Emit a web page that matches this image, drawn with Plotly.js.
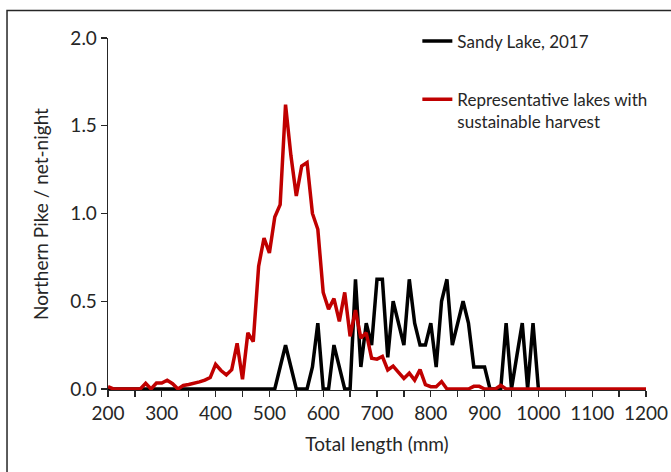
<!DOCTYPE html>
<html>
<head>
<meta charset="utf-8">
<script src="https://cdn.plot.ly/plotly-3.0.1.min.js"></script>
<style>html,body{margin:0;padding:0;background:#fff;}#chart{width:671px;height:472px;}</style>
</head>
<body>
<div id="chart"></div>
<script>
// Total length (mm) bins
const lengthsRep = [200,210,220,230,240,250,260,270,280,290,300,310,320,330,340,350,360,370,380,390,
  400,410,420,430,440,450,460,470,480,490,500,510,520,530,540,550,560,570,580,590,
  600,610,620,630,640,650,660,670,680,690,700,710,720,730,740,750,760,770,780,790,
  800,810,820,830,840,850,860,870,880,890,900,910,920,930,940,950,960,970,980,990,
  1000,1010,1020,1030,1040,1050,1060,1070,1080,1090,1100,1110,1120,1130,1140,1150,1160,1170,1180,1190,1200];
// Representative lakes with sustainable harvest (fish / net-night)
const repValues = [0.013,0,0,0,0,0,0,0.032,0,0.034,0.034,0.05,0.03,0,0.02,0.025,0.03,0.04,0.05,0.065,
  0.14,0.105,0.08,0.11,0.26,0.055,0.32,0.27,0.70,0.86,0.775,0.98,1.05,1.62,1.33,1.10,1.27,1.29,1.00,0.91,
  0.55,0.455,0.515,0.385,0.55,0.30,0.45,0.29,0.32,0.175,0.17,0.185,0.108,0.13,0.095,0.06,0.09,0.05,0.11,0.025,
  0.013,0.013,0.042,0,0,0,0,0,0.015,0.015,0,0,0,0.02,0,0,0,0,0,0,
  0,0,0,0,0,0,0,0,0,0,0,0,0,0,0,0,0,0,0,0,0];
const lengthsSandy = [200,210,220,230,240,250,260,270,280,290,300,310,320,330,340,350,360,370,380,390,
  400,410,420,430,440,450,460,470,480,490,500,510,520,530,540,550,560,570,580,590,
  600,610,620,630,640,650,660,670,680,690,700,710,720,730,740,750,760,770,780,790,
  800,810,820,830,840,850,860,870,880,890,900,910,920,930,940,950,960,970,980,990,1000];
// Sandy Lake, 2017 (fish / net-night)
const sandyValues = [0,0,0,0,0,0,0,0,0,0,0,0,0,0,0,0,0,0,0,0,
  0,0,0,0,0,0,0,0,0,0,0,0,0.125,0.25,0.125,0,0,0,0.125,0.375,
  0,0,0.25,0.125,0,0,0.625,0.125,0.375,0.25,0.625,0.625,0.18,0.5,0.375,0.25,0.625,0.375,0.25,0.25,
  0.375,0.125,0.5,0.625,0.25,0.375,0.5,0.375,0.125,0.125,0.125,0,0,0,0.375,0,0.19,0.375,0,0.375,0];

const seriesNames = ['Sandy Lake, 2017', 'Representative lakes with<br>sustainable harvest'];
const xTitle = 'Total length (mm)';
const yTitle = 'Northern Pike / net-night';

const FONT = 'Lato, "Open Sans", sans-serif';

const traces = [
  {x: lengthsSandy, y: sandyValues, type: 'scatter', mode: 'lines', name: seriesNames[0],
   line: {color: '#000000', width: 3.5}, legendgroup: 'a'},
  {x: lengthsRep, y: repValues, type: 'scatter', mode: 'lines', name: seriesNames[1],
   line: {color: '#C00000', width: 3.5}, legendgroup: 'b'}
];

const layout = {
  width: 671, height: 472,
  margin: {l: 108, r: 25, t: 38, b: 82, pad: 0},
  paper_bgcolor: '#ffffff', plot_bgcolor: '#ffffff',
  font: {family: FONT, size: 19, color: '#262626'},
  showlegend: true,
  legend: {x: 0.575, y: 1.041, xanchor: 'left', yanchor: 'top', bgcolor: 'rgba(0,0,0,0)',
           font: {family: FONT, size: 17, color: '#262626'}, tracegroupgap: 33, valign: 'top',
           itemwidth: 30, traceorder: 'grouped'},
  xaxis: {range: [200, 1200], dtick: 100, tick0: 200, showgrid: false, zeroline: false,
          showline: true, linecolor: '#262626', linewidth: 1.3,
          ticks: 'outside', ticklen: 6, tickcolor: '#262626', tickwidth: 1.3,
          minor: {dtick: 50, ticks: 'outside', ticklen: 6, tickcolor: '#262626', tickwidth: 1.3, showgrid: false},
          tickfont: {family: FONT, size: 19, color: '#262626'},
          title: {text: xTitle, font: {family: FONT, size: 19, color: '#262626'}, standoff: 14}},
  yaxis: {range: [-0.006, 2.0], dtick: 0.5, tickformat: '.1f', showgrid: false, zeroline: false,
          showline: true, linecolor: '#262626', linewidth: 1.3,
          ticks: 'outside', ticklen: 6, tickcolor: '#262626', tickwidth: 1.3,
          tickfont: {family: FONT, size: 19, color: '#262626'},
          title: {text: yTitle, font: {family: FONT, size: 19, color: '#262626'}, standoff: 16}},
  shapes: [
    {type: 'rect', xref: 'paper', yref: 'paper', x0: -0.1877, x1: 1.3, y0: -0.5, y1: 1.078,
     line: {color: '#262626', width: 1.5}, fillcolor: 'rgba(0,0,0,0)', layer: 'below'}
  ]
};

Plotly.newPlot('chart', traces, layout, {staticPlot: true, displayModeBar: false});
</script>
</body>
</html>
